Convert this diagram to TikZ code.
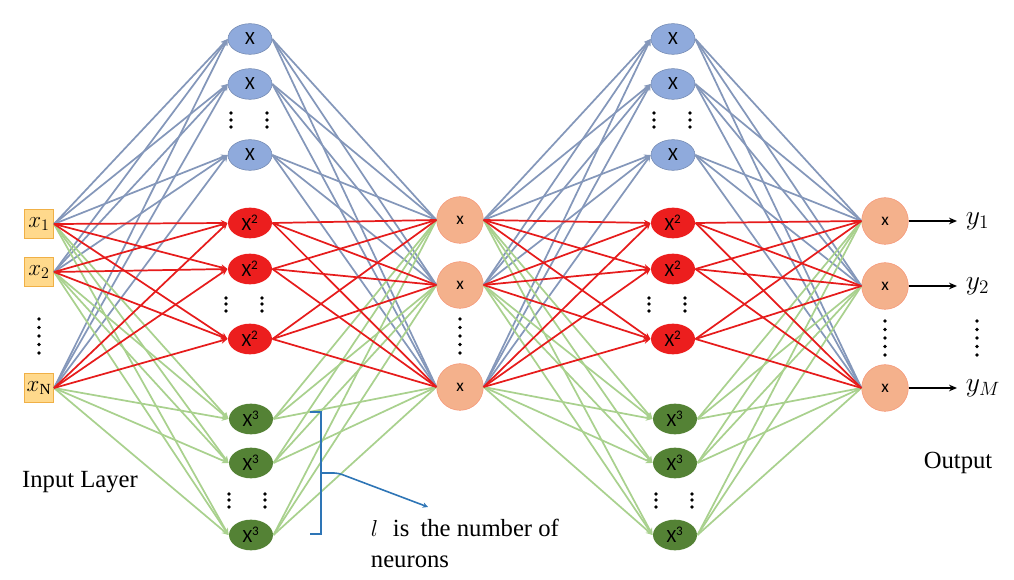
\documentclass[tikz,border=0pt]{standalone}
\usepackage{fontspec}
\setmainfont{Liberation Serif}
\newfontfamily\calib{Carlito}
\usetikzlibrary{arrows.meta,shapes.geometric}

\definecolor{lnblue}{RGB}{132,151,186}
\definecolor{lnred}{RGB}{230,28,28}
\definecolor{lngreen}{RGB}{169,209,142}
\definecolor{ndblue}{RGB}{143,170,220}
\definecolor{ndred}{RGB}{236,30,30}
\definecolor{ndgreen}{RGB}{84,130,53}
\definecolor{ndorange}{RGB}{244,177,140}
\definecolor{ndinput}{RGB}{255,217,140}
\definecolor{inborder}{RGB}{240,176,70}
\definecolor{brblue}{RGB}{46,117,182}

\tikzset{
	neuron/.style={ellipse, minimum width=33pt, minimum height=23pt, inner sep=0pt, font=\calib\fontsize{14}{14}\selectfont},
	lin/.style={neuron, fill=ndblue, draw=ndblue!80!black, line width=0.4pt},
	sq/.style={neuron, fill=ndred, draw=none},
	cub/.style={neuron, fill=ndgreen, draw=none},
	hub/.style={circle, minimum size=35pt, inner sep=0pt, fill=ndorange, draw=ndorange!85!red, line width=0.4pt, font=\calib\fontsize{13}{13}\selectfont},
	inbox/.style={rectangle, minimum size=22pt, inner sep=0pt, fill=ndinput, draw=inborder, line width=0.5pt, font=\fontsize{16.5}{16.5}\selectfont},
	wire/.style={line width=1.3pt},
	tip/.style={-{Stealth[length=5pt,width=4.5pt]}},
	txt/.style={font=\fontsize{18.5}{22}\selectfont}}
\tikzset{every picture/.style={line width=0.75pt}}

\begin{document}
\begin{tikzpicture}[x=0.75pt,y=0.75pt,yscale=-1,xscale=1]
	\useasboundingbox (0,0) rectangle (1014,580);

	% Input nodes
	\node[inbox] (in1) at (39,224) {$x_1$};
	\node[inbox] (in2) at (39,272) {$x_2$};
	\node[inbox] (inN) at (39,388) {$x_{\mathrm{N}}$};

	% Hidden block A
	\foreach \n/\y in {1/39,2/84,3/155} \node[lin] (pA\n) at (250,\y) {X};
	\foreach \n/\y in {1/223,2/269,3/339} \node[sq] (qA\n) at (250,\y) {X\textsuperscript{2}};
	\foreach \n/\y in {1/419,2/463,3/535} \node[cub] (cA\n) at (251,\y) {X\textsuperscript{3}};

	% Middle nodes
	\node[hub] (m1) at (460,220) {x};
	\node[hub] (m2) at (460,285) {x};
	\node[hub] (m3) at (460,387) {x};

	% Hidden block B
	\foreach \n/\y in {1/39,2/84,3/155} \node[lin] (pB\n) at (673,\y) {X};
	\foreach \n/\y in {1/223,2/269,3/339} \node[sq] (qB\n) at (673,\y) {X\textsuperscript{2}};
	\foreach \n/\y in {1/419,2/463,3/535} \node[cub] (cB\n) at (675,\y) {X\textsuperscript{3}};

	% Output nodes
	\node[hub] (o1) at (885,221) {x};
	\node[hub] (o2) at (885,286) {x};
	\node[hub] (o3) at (885,388) {x};

	%Straight Lines
	\foreach \g/\col in {p/lnblue,c/lngreen,q/lnred} {
		\foreach \s in {in1,in2,inN} \foreach \k in {1,2,3} \draw[wire,\col,tip] (\s.east) -- (\g A\k.west);
		\foreach \k in {1,2,3} \foreach \m in {m1,m2,m3} \draw[wire,\col] (\g A\k.east) -- (\m.west);
		\foreach \m in {m1,m2,m3} \foreach \k in {1,2,3} \draw[wire,\col,tip] (\m.east) -- (\g B\k.west);
		\foreach \k in {1,2,3} \foreach \o in {o1,o2,o3} \draw[wire,\col] (\g B\k.east) -- (\o.west);
	}

	% Output labels and arrows
	\node[anchor=west, font=\fontsize{22}{22}\selectfont] (y1) at (961,221) {$y_1$};
	\node[anchor=west, font=\fontsize{22}{22}\selectfont] (y2) at (961,286) {$y_2$};
	\node[anchor=west, font=\fontsize{22}{22}\selectfont] (yM) at (961,388) {$y_M$};
	\foreach \o/\y in {o1/y1,o2/y2,o3/yM} \draw[line width=1.2pt, -{Stealth[length=6pt,width=5pt]}, shorten >=3pt] (\o.east) -- (\y.west);

	% Dots
	\foreach \y in {113,120,127} {
		\fill (231,\y) circle (1.4pt); \fill (267,\y) circle (1.4pt);
		\fill (654,\y) circle (1.4pt); \fill (690,\y) circle (1.4pt);}
	\foreach \y in {298,304,311} {
		\fill (226,\y) circle (1.4pt); \fill (262,\y) circle (1.4pt);
		\fill (649,\y) circle (1.4pt); \fill (685,\y) circle (1.4pt);}
	\foreach \y in {494,500,507} {
		\fill (229,\y) circle (1.4pt); \fill (265,\y) circle (1.4pt);
		\fill (656,\y) circle (1.4pt); \fill (692,\y) circle (1.4pt);}
	\foreach \y in {319,327.5,336,344.5,353} {
		\fill (39,\y) circle (1.4pt); \fill (460,\y) circle (1.4pt);
		\fill (885,\y+2) circle (1.4pt); \fill (977,\y+2) circle (1.4pt);}

	% Bracket
	\draw[brblue, line width=1.2pt] (310,412) -- (321,412) -- (321,534) -- (310,534);
	\coordinate (brmid) at (321,473);
	\coordinate (brend) at (428,507);
	\draw[brblue, line width=1.2pt, rounded corners=3pt, -{Stealth[length=4pt,width=4pt]}] (brmid) -- (338,473) -- (brend);

	% Text Node
	\node[txt, anchor=base west] (note1) at (366,537) {$l$\hspace{0.6em}is\hspace{0.45em}the number of};
	\node[txt, anchor=base west] (note2) at (366,567) {neurons};
	% Text Node
	\node[txt] (inlab) at (80,482) {Input Layer};
	% Text Node
	\node[txt] (outlab) at (958,463) {Output};

\end{tikzpicture}
\end{document}
